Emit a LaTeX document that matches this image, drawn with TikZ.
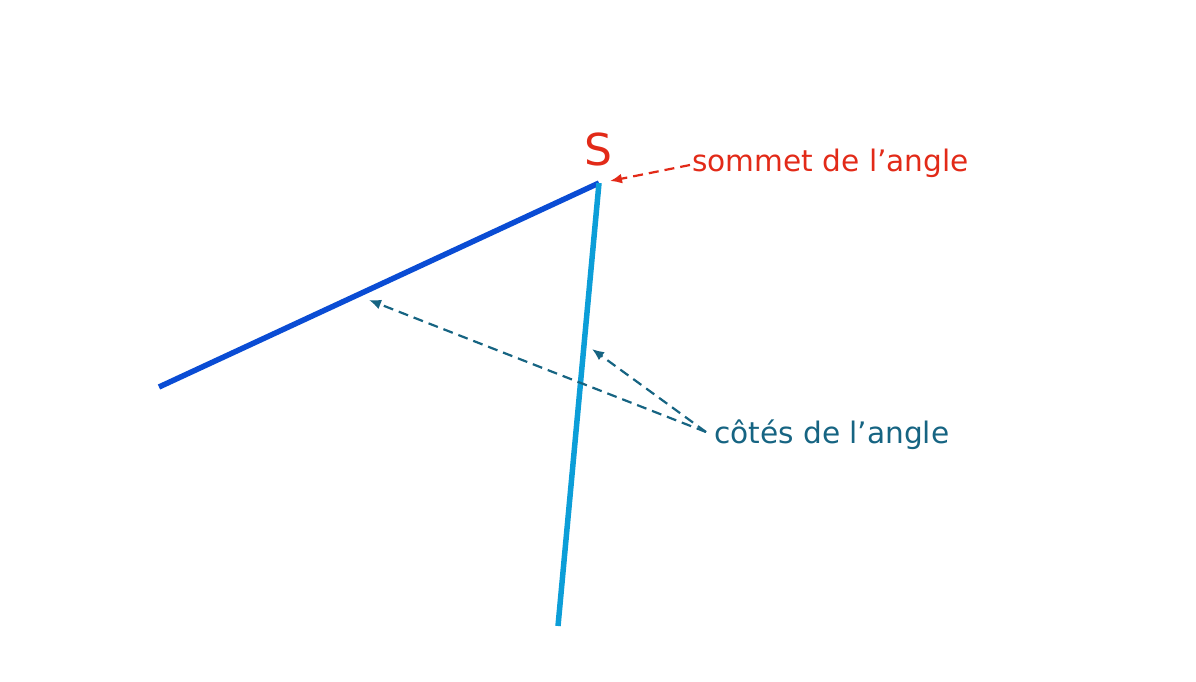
\documentclass[tikz,border=0pt]{standalone}
\usepackage{fontspec}
\setmainfont{DejaVu Sans}
\usetikzlibrary{arrows.meta}
\definecolor{darkside}{RGB}{10,76,212}
\definecolor{lightside}{RGB}{12,158,216}
\definecolor{redlabel}{RGB}{226,42,24}
\definecolor{teallabel}{RGB}{22,100,130}
\tikzset{
  side/.style={line width=5.5pt, line cap=butt},
  callout/.style={line width=2.2pt, dash pattern=on 10pt off 6pt, -{Latex[length=12pt,width=10pt]}},
  lbl/.style={inner sep=0pt, font=\fontsize{29.6}{35}\selectfont},
}
\begin{document}
\begin{tikzpicture}[x=1pt,y=-1pt]
\useasboundingbox (0,0) rectangle (1196,681);
\coordinate (V) at (599,183);
\coordinate (A) at (159,387);
\coordinate (B) at (558,626);
\draw[side, darkside] (A) -- (V);
\draw[side, lightside] (V) -- (B);
\node[lbl, text=redlabel, font=\fontsize{44}{50}\selectfont] (S) at (598,149) {S};
\node[lbl, text=redlabel, anchor=west] (sommet) at (692,163) {sommet de l’angle};
\node[lbl, text=teallabel, anchor=west] (cotes) at (714,435) {côtés de l’angle};
\coordinate (r0) at (690,165);
\coordinate (r1) at (610,181);
\coordinate (c0) at (706,432);
\coordinate (t1) at (369,300);
\coordinate (t2) at (592,349);
\draw[callout, redlabel] (r0) -- (r1);
\draw[callout, teallabel] (c0) -- (t1);
\draw[callout, teallabel] (c0) -- (t2);
\end{tikzpicture}
\end{document}
